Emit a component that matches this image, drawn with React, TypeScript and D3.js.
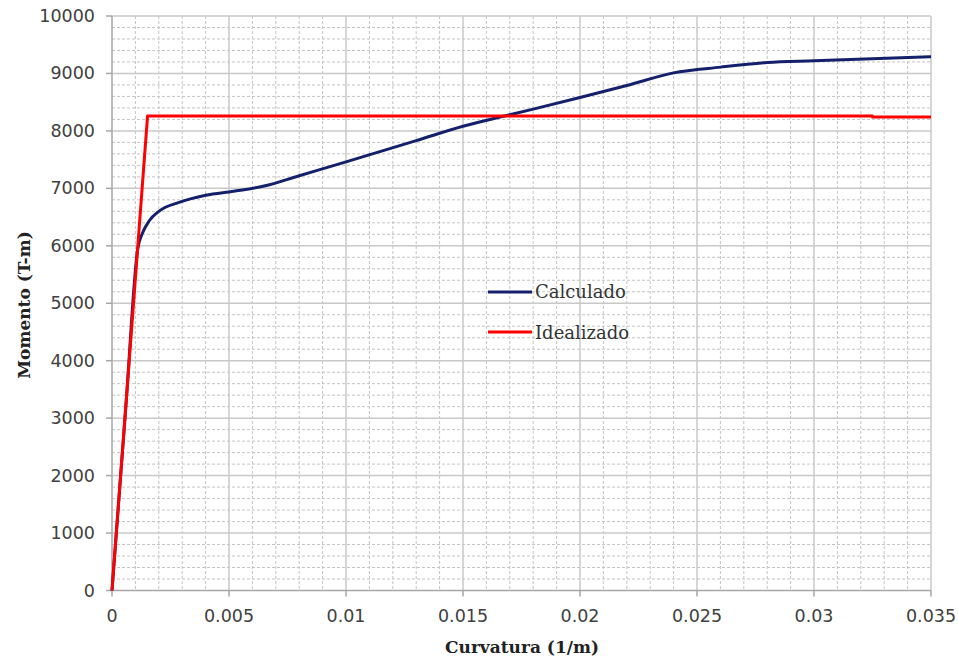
import React from "react";
import * as d3 from "d3";

// Moment–curvature data
const calcCurvature = [0, 0.0006, 0.0011, 0.0013, 0.0016, 0.002, 0.0029, 0.004, 0.0052, 0.0065, 0.008, 0.01, 0.013, 0.015, 0.017, 0.02, 0.022, 0.024, 0.026, 0.028, 0.03, 0.035];
const calcMoment = [0, 3250, 5950, 6220, 6440, 6600, 6760, 6880, 6950, 7040, 7220, 7460, 7830, 8080, 8280, 8580, 8790, 9010, 9110, 9190, 9220, 9290];

const idealCurvature = [0, 0.00152, 0.0325, 0.0325, 0.035];
const idealMoment = [0, 8260, 8260, 8240, 8240];

const xTicks = [0, 0.005, 0.01, 0.015, 0.02, 0.025, 0.03, 0.035];
const yTicks = [0, 1000, 2000, 3000, 4000, 5000, 6000, 7000, 8000, 9000, 10000];

const seriesNames = ["Calculado", "Idealizado"];
const seriesColors = ["#14206b", "#ff0000"];

export default function App() {
  const W = 958, H = 658;
  const x = d3.scaleLinear().domain([0, 0.035]).range([112, 931]);
  const y = d3.scaleLinear().domain([0, 10000]).range([590.5, 16]);

  const xMinor = d3.range(0, 0.0351, 0.001).filter((v) => Math.abs(v / 0.005 - Math.round(v / 0.005)) > 1e-6);
  const yMinor = d3.range(0, 10001, 200).filter((v) => v % 1000 !== 0);

  const calcPath = d3
    .line<[number, number]>()
    .x((d) => x(d[0]))
    .y((d) => y(d[1]))
    .curve(d3.curveMonotoneX)(calcCurvature.map((c, i) => [c, calcMoment[i]] as [number, number]));
  const idealPath = d3
    .line<[number, number]>()
    .x((d) => x(d[0]))
    .y((d) => y(d[1]))(idealCurvature.map((c, i) => [c, idealMoment[i]] as [number, number]));

  const tickFont = "'DejaVu Sans', Verdana, sans-serif";
  const serif = "'DejaVu Serif', 'Liberation Serif', serif";

  return (
    <svg width={W} height={H} style={{ position: "absolute", left: 0, top: 0, background: "#fff" }}>
      {/* minor grid */}
      <g stroke="#c4c4c4" strokeWidth={1} strokeDasharray="3,2">
        {xMinor.map((v) => (
          <line key={"xm" + v} x1={x(v)} x2={x(v)} y1={y(10000)} y2={y(0)} />
        ))}
        {yMinor.map((v) => (
          <line key={"ym" + v} x1={x(0)} x2={x(0.035)} y1={y(v)} y2={y(v)} />
        ))}
      </g>
      {/* major grid */}
      <g stroke="#c8c8c8" strokeWidth={1.5}>
        {xTicks.slice(1).map((v) => (
          <line key={"xM" + v} x1={x(v)} x2={x(v)} y1={y(10000)} y2={y(0)} />
        ))}
        {yTicks.slice(1).map((v) => (
          <line key={"yM" + v} x1={x(0)} x2={x(0.035)} y1={y(v)} y2={y(v)} />
        ))}
      </g>
      {/* axes */}
      <g stroke="#a6a6a6" strokeWidth={1.5}>
        <line x1={x(0)} x2={x(0)} y1={y(10000)} y2={y(0)} />
        <line x1={x(0)} x2={x(0.035)} y1={y(0)} y2={y(0)} />
        {yTicks.map((v) => (
          <line key={"yt" + v} x1={x(0) - 6} x2={x(0)} y1={y(v)} y2={y(v)} />
        ))}
        {xTicks.map((v) => (
          <line key={"xt" + v} x1={x(v)} x2={x(v)} y1={y(0)} y2={y(0) + 6} />
        ))}
      </g>
      {/* tick labels */}
      <g fontFamily={tickFont} fontSize={17.5} fill="#404040">
        {yTicks.map((v) => (
          <text key={"yl" + v} x={95} y={y(v) + 6} textAnchor="end">
            {v}
          </text>
        ))}
        {xTicks.map((v) => (
          <text key={"xl" + v} x={x(v)} y={622} textAnchor="middle">
            {v}
          </text>
        ))}
      </g>
      {/* axis titles */}
      <text x={522} y={653} textAnchor="middle" fontFamily={serif} fontWeight="bold" fontSize={17} fill="#222">
        Curvatura (1/m)
      </text>
      <text
        transform="translate(30,305) rotate(-90)"
        textAnchor="middle"
        fontFamily={serif}
        fontWeight="bold"
        fontSize={17}
        fill="#222"
      >
        Momento (T-m)
      </text>
      {/* series */}
      <path d={calcPath ?? ""} fill="none" stroke={seriesColors[0]} strokeWidth={3} strokeLinejoin="round" />
      <path d={idealPath ?? ""} fill="none" stroke={seriesColors[1]} strokeWidth={3} strokeLinejoin="round" />
      {/* legend */}
      {seriesNames.map((name, i) => (
        <g key={name}>
          <line x1={488} x2={532} y1={292 + i * 40} y2={292 + i * 40} stroke={seriesColors[i]} strokeWidth={3} />
          <text x={535} y={298 + i * 41} fontFamily={serif} fontSize={18} fill="#333">
            {name}
          </text>
        </g>
      ))}
    </svg>
  );
}
